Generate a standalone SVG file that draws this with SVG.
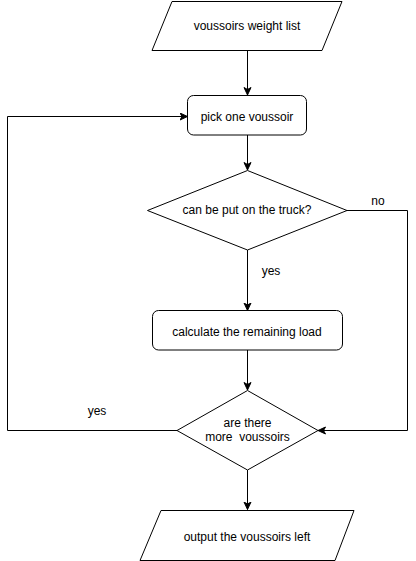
<svg xmlns="http://www.w3.org/2000/svg" width="416" height="561" viewBox="0 0 416 561">
<style>
.s{fill:#fff;stroke:#000;stroke-width:1}
.c{fill:none;stroke:#000;stroke-width:1}
text{font-family:"Liberation Sans",Arial,sans-serif;font-size:12px;fill:#000}
.m{text-anchor:middle}
</style>
<defs>
<marker id="a" markerUnits="userSpaceOnUse" markerWidth="10" markerHeight="10" viewBox="0 0 10 10" refX="8" refY="4" orient="auto">
<path d="M0.5,0.5 L8,4 L0.5,7.5 L2.5,4 Z" fill="#000" stroke="#000" stroke-width="1"/>
</marker>
</defs>
<rect width="416" height="561" fill="#fff"/>
<g id="connectors">
<path class="c" d="M247.5,50.5 V95" marker-end="url(#a)"/>
<path class="c" d="M247.5,135 V170" marker-end="url(#a)"/>
<path class="c" d="M247.5,250 V310.5" marker-end="url(#a)"/>
<path class="c" d="M247.5,350 V390" marker-end="url(#a)"/>
<path class="c" d="M247.5,470 V509.5" marker-end="url(#a)"/>
<path class="c" d="M347,210.5 H407.5 V430.5 H318" marker-end="url(#a)"/>
<path class="c" d="M177,430.5 H7.5 V116.5 H187.5" marker-end="url(#a)"/>
</g>
<g id="labels">
<text x="378" y="205" class="m">no</text>
<text x="271" y="275" class="m">yes</text>
<text x="97" y="415" class="m">yes</text>
</g>
<g id="n1">
<path class="s" d="M172,1.5 H342 L322,50.5 H152 Z"/>
<text x="247" y="30" class="m">voussoirs weight list</text>
</g>
<g id="n2">
<rect class="s" x="187.5" y="95.5" width="119" height="39.5" rx="6"/>
<text x="247" y="121" class="m">pick one voussoir</text>
</g>
<g id="n3">
<path class="s" d="M247.5,170.5 L347,210.5 L247.5,250 L147.5,210.5 Z"/>
<text x="247" y="213.5" class="m">can be put on the truck?</text>
</g>
<g id="n4">
<rect class="s" x="152.5" y="310.5" width="190" height="39.5" rx="6"/>
<text x="247" y="336" class="m">calculate the remaining load</text>
</g>
<g id="n5">
<path class="s" d="M247.5,390.5 L318,430.5 L247.5,470 L177,430.5 Z"/>
<text x="247.5" y="427" class="m">are there</text>
<text x="247.5" y="441" class="m" xml:space="preserve">more  voussoirs</text>
</g>
<g id="n6">
<path class="s" d="M161,510.5 H354 L335,560.5 H140 Z"/>
<text x="247" y="541" class="m">output the voussoirs left</text>
</g>
</svg>
